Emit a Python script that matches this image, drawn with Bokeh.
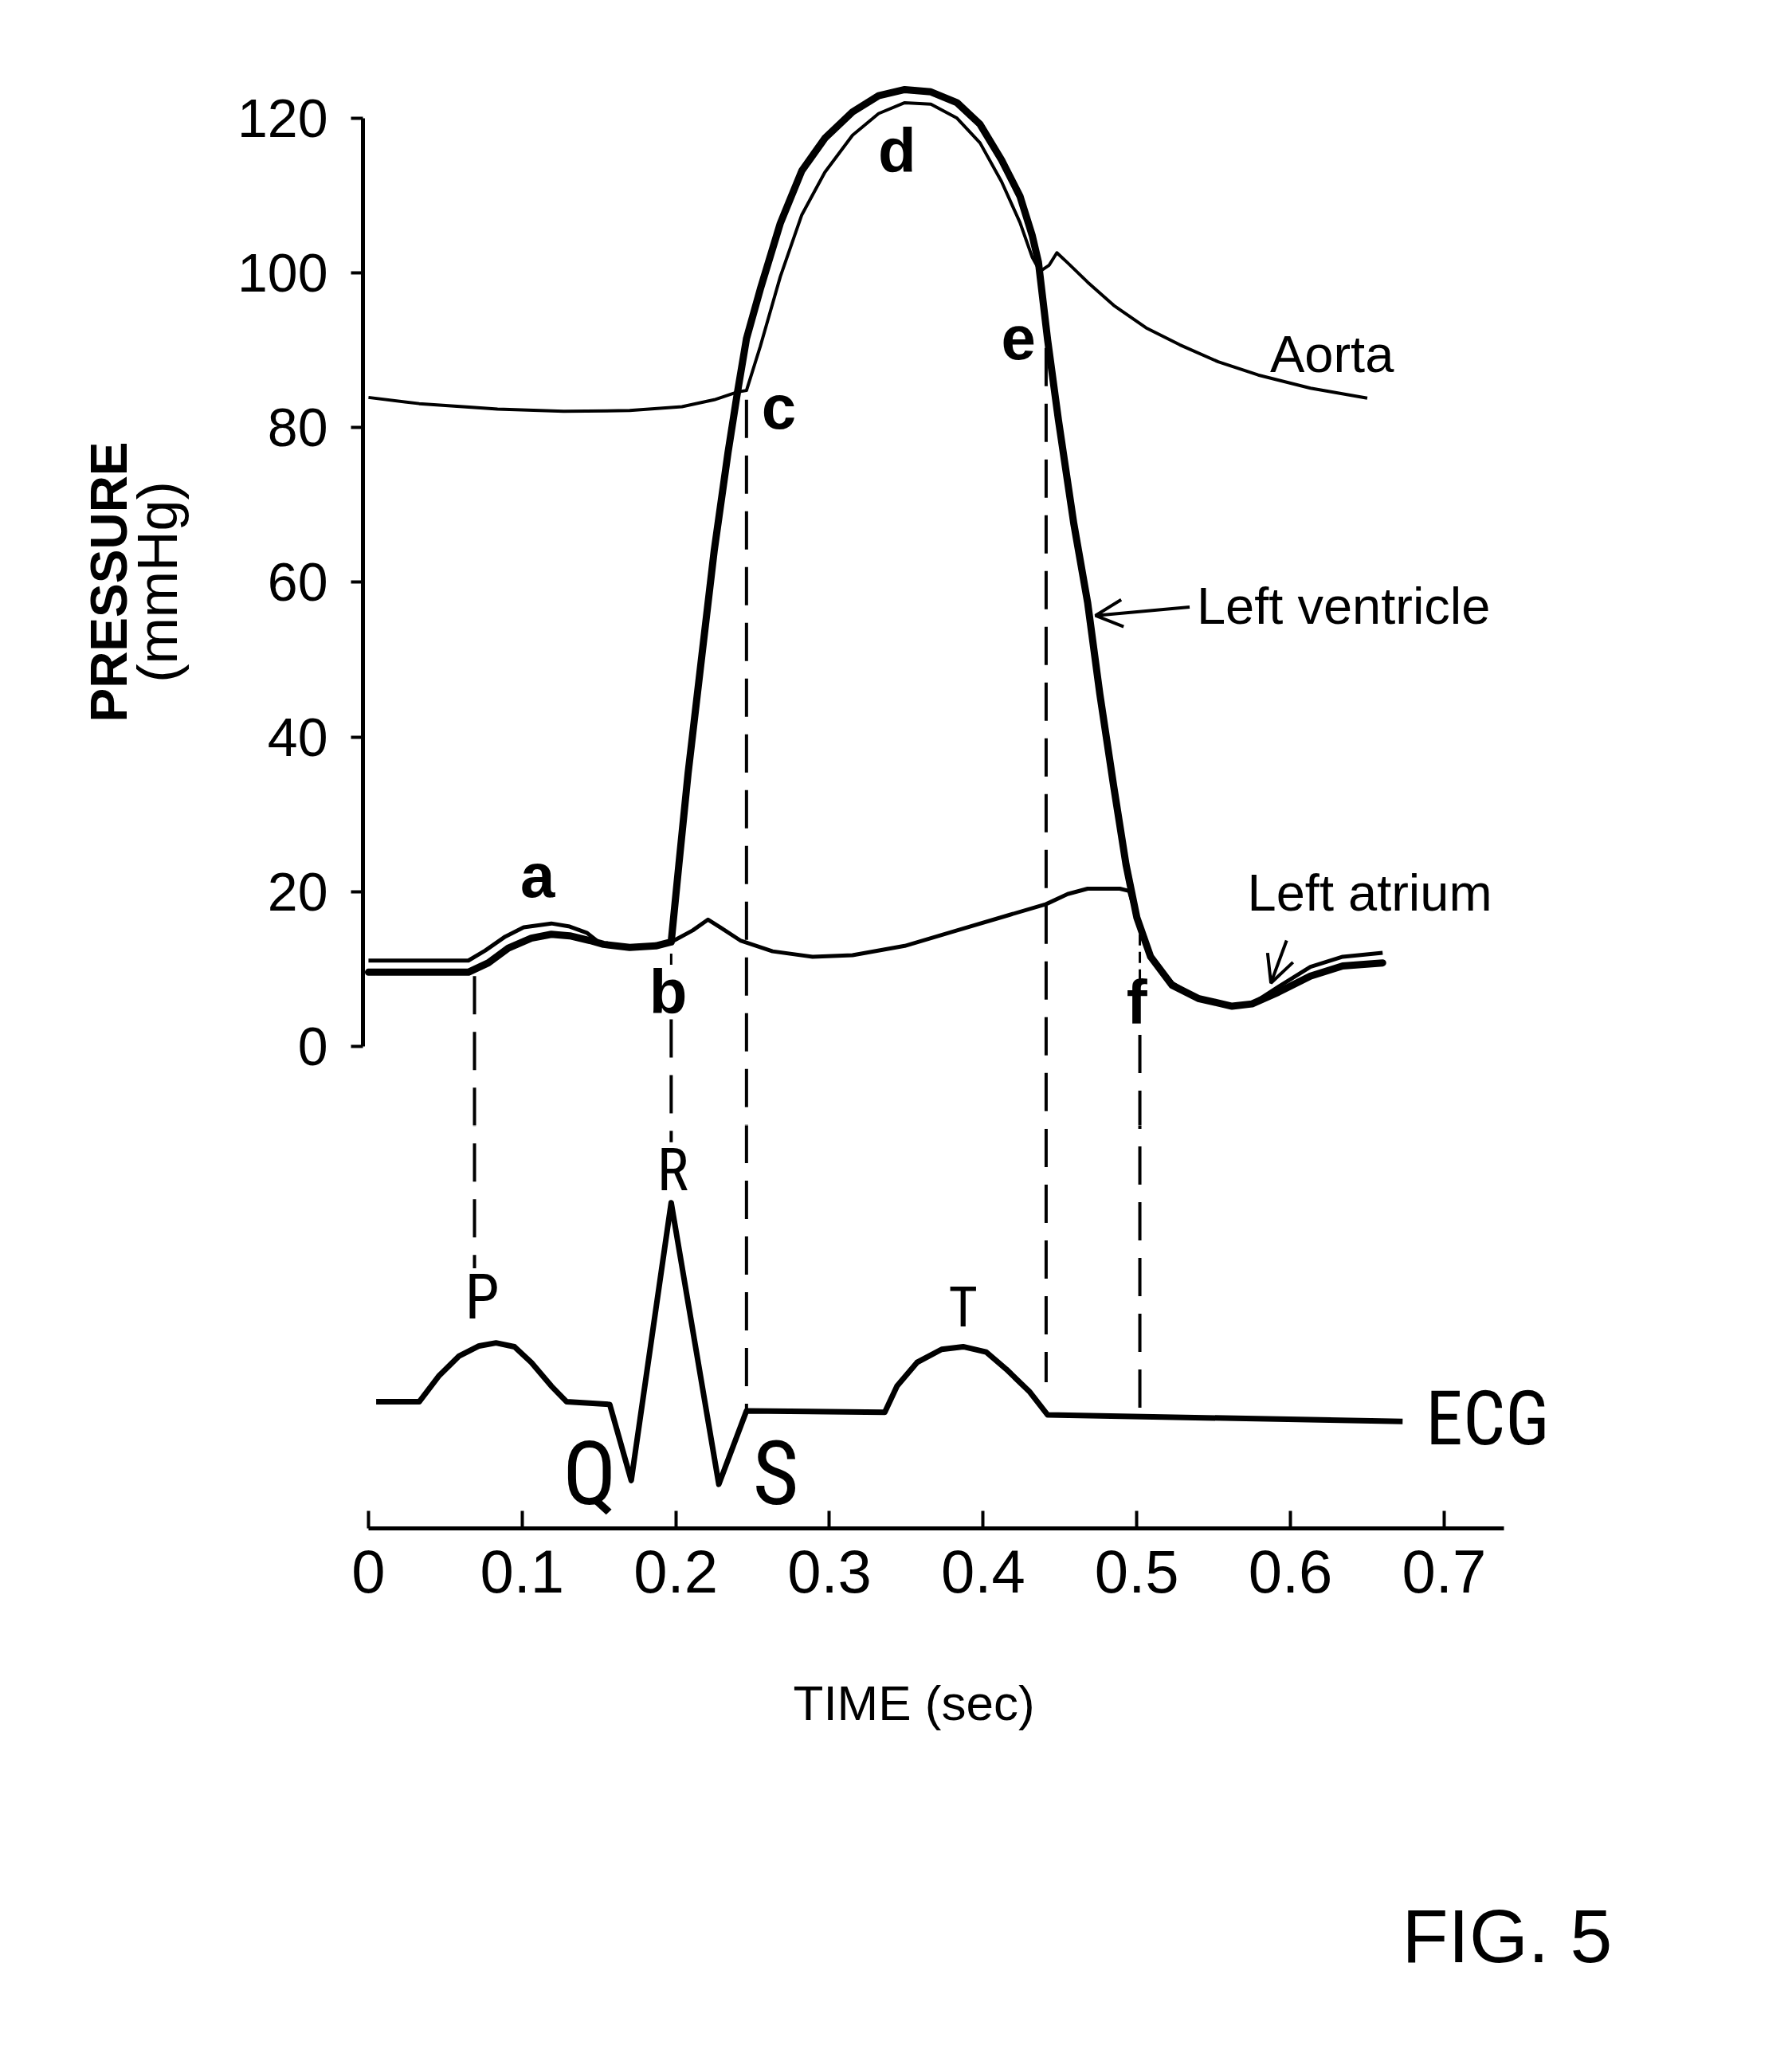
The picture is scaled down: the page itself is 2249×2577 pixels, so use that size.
from bokeh.plotting import figure
from bokeh.layouts import column
from bokeh.models import Range1d, FixedTicker, Label, Arrow, OpenHead, LinearAxis
from bokeh.embed import file_html
from bokeh.resources import INLINE

# ---------------- data (time in s, pressure in mmHg, ECG in mV) ----------------
lv_t = [0.000, 0.065, 0.078, 0.091, 0.106, 0.119, 0.131, 0.144, 0.153, 0.170,
        0.187, 0.197, 0.202, 0.208, 0.217, 0.225, 0.234, 0.240, 0.246, 0.255,
        0.268, 0.282, 0.297, 0.315, 0.332, 0.349, 0.366, 0.383, 0.398, 0.412,
        0.424, 0.432, 0.436, 0.442, 0.449, 0.459, 0.468, 0.476, 0.485, 0.493,
        0.500, 0.509, 0.523, 0.540, 0.562, 0.575, 0.592, 0.613, 0.634, 0.660]
lv_p = [9.6, 9.6, 10.8, 12.7, 14.0, 14.5, 14.3, 13.7, 13.2, 12.8,
        13.0, 13.5, 23.5, 35.3, 50.6, 64.1, 76.8, 84.4, 91.5, 97.9,
        106.4, 113.2, 117.4, 120.8, 122.9, 123.7, 123.4, 122.0, 119.2, 114.6,
        109.9, 104.8, 101.4, 91.3, 81.0, 67.6, 57.4, 45.5, 33.6, 23.5,
        16.7, 11.6, 7.9, 6.2, 5.2, 5.5, 7.0, 9.1, 10.4, 10.8]

la_t = [0.000, 0.065, 0.076, 0.089, 0.101, 0.119, 0.131, 0.142, 0.151, 0.165,
        0.182, 0.197, 0.211, 0.221, 0.229, 0.242, 0.263, 0.289, 0.315, 0.349,
        0.383, 0.417, 0.441, 0.455, 0.468, 0.489, 0.495, 0.500, 0.509, 0.523,
        0.540, 0.562, 0.575, 0.592, 0.613, 0.634, 0.660]
la_p = [11.1, 11.1, 12.4, 14.2, 15.4, 15.9, 15.5, 14.7, 13.3, 12.8,
        13.0, 13.5, 15.0, 16.4, 15.4, 13.7, 12.3, 11.6, 11.8, 13.0,
        15.0, 17.0, 18.4, 19.7, 20.4, 20.4, 20.1, 16.7, 11.6, 8.2,
        6.2, 5.2, 5.5, 7.7, 10.3, 11.6, 12.1]

ao_t = [0.000, 0.033, 0.084, 0.127, 0.170, 0.204, 0.225, 0.240, 0.246, 0.255,
        0.268, 0.282, 0.297, 0.315, 0.332, 0.349, 0.366, 0.383, 0.398, 0.412,
        0.424, 0.432, 0.437, 0.443, 0.448, 0.455, 0.468, 0.485, 0.506, 0.528,
        0.553, 0.579, 0.613, 0.650]
ao_p = [83.9, 83.1, 82.4, 82.1, 82.2, 82.7, 83.6, 84.6, 84.8, 90.5,
        99.5, 107.5, 113.0, 117.8, 120.6, 122.0, 121.8, 120.0, 116.8, 111.8,
        106.5, 102.0, 100.2, 101.0, 102.6, 101.3, 98.8, 95.8, 92.9, 90.7,
        88.5, 86.8, 85.1, 83.8]

ecg_t = [0.005, 0.033, 0.046, 0.059, 0.072, 0.083, 0.095, 0.106, 0.119, 0.129,
         0.157, 0.171, 0.197, 0.228, 0.246, 0.336, 0.344, 0.357, 0.373, 0.387,
         0.402, 0.415, 0.430, 0.442, 0.673]
ecg_mv = [0.013, 0.013, 0.143, 0.240, 0.290, 0.305, 0.286, 0.208, 0.091, 0.013,
          0.000, -0.377, 1.000, -0.396, -0.032, -0.039, 0.091, 0.208, 0.273, 0.286,
          0.260, 0.175, 0.065, -0.052, -0.084]

# event lines: time, top (mmHg), bottom (ECG mV)
event_t = [0.069, 0.197, 0.246, 0.441, 0.502]
event_top_p = [9.1, 3.5, 83.6, 90.3, 1.5]
event_bottom_mv = [0.675, 1.30, -0.03, 0.11, -0.04]
# short dashed pieces between the curve and the letters b and f
stub_t = [0.197, 0.502]
stub_top_p = [12.0, 14.5]
stub_bottom_p = [10.0, 8.5]

x_ticks = [0, 0.1, 0.2, 0.3, 0.4, 0.5, 0.6, 0.7]
x_tick_labels = ["0", "0.1", "0.2", "0.3", "0.4", "0.5", "0.6", "0.7"]
y_ticks = [0, 20, 40, 60, 80, 100, 120]

# ---------------- layout constants ----------------
PX = 9.71                    # pixels per mmHg (vertical)
X_START, X_END = -0.0036, 0.9054
Y_TOP, Y_SPLIT, Y_AXIS, Y_END = 130.28, -10.19, -62.31, -128.5
ECG_ZERO_P = -46.28          # where 0 mV sits on the pressure scale
ECG_P_PER_MV = 26.08         # mmHg-equivalent height of 1 mV
LEFT, RIGHT, TOP = 455, 25, 48
W = 2233
XAXIS_BORDER = 140


def ecg_to_p(mv):
    return ECG_ZERO_P + mv * ECG_P_PER_MV


def p_to_ecg(pv):
    return (pv - ECG_ZERO_P) / ECG_P_PER_MV


FONT = "Liberation Sans"
NARROW = "Roboto Condensed, DejaVu Sans Condensed, Liberation Sans Narrow, Liberation Sans"

x_range = Range1d(X_START, X_END)


def base_fig(h, y_range, top=0, bottom=0, xaxis=False, yaxis=False):
    f = figure(width=W, height=h, x_range=x_range, y_range=y_range,
               output_backend="svg", toolbar_location=None,
               min_border_left=LEFT, min_border_right=RIGHT,
               min_border_top=top, min_border_bottom=bottom,
               x_axis_location="below" if xaxis else None,
               y_axis_location="left" if yaxis else None)
    f.outline_line_color = None
    f.grid.visible = False
    f.background_fill_color = "white"
    f.border_fill_color = "white"
    return f


def lab(f, x, y, text, size, font=FONT, style="normal", align="center"):
    f.add_layout(Label(x=x, y=y, text=text, text_font=font,
                       text_font_size=size, text_font_style=style,
                       text_align=align, text_baseline="middle",
                       text_color="black"))


# ================= pressure panel =================
top_h = TOP + round((Y_TOP - Y_SPLIT) * PX)
p1 = base_fig(top_h, Range1d(Y_SPLIT, Y_TOP), top=TOP, yaxis=True)

ya = p1.yaxis[0]
ya.ticker = FixedTicker(ticks=y_ticks)
ya.bounds = (0, 120)
ya.axis_line_width = 5
ya.axis_line_color = "black"
ya.major_tick_line_width = 4
ya.major_tick_out = 15
ya.major_tick_in = 0
ya.minor_tick_line_color = None
ya.minor_tick_out = 0
ya.minor_tick_in = 0
ya.major_label_text_font = FONT
ya.major_label_text_font_size = "68px"
ya.major_label_text_color = "black"
ya.major_label_standoff = 29
ya.axis_label = "(mmHg)"
ya.axis_label_text_font = FONT
ya.axis_label_text_font_size = "70px"
ya.axis_label_text_font_style = "normal"
ya.axis_label_text_color = "black"
ya.axis_label_standoff = 58

p1.add_layout(LinearAxis(ticker=FixedTicker(ticks=[]), bounds=(0, 120),
                         axis_line_color=None, major_tick_line_color=None,
                         minor_tick_line_color=None, major_tick_out=0,
                         major_tick_in=0, minor_tick_out=0, minor_tick_in=0,
                         major_label_standoff=0,
                         major_label_text_font_size="0px",
                         axis_label="PRESSURE", axis_label_text_font=FONT,
                         axis_label_text_font_size="64px",
                         axis_label_text_font_style="bold",
                         axis_label_text_color="black",
                         axis_label_standoff=-16), "left")

p1.segment(x0=event_t, y0=event_top_p, x1=event_t,
           y1=[ecg_to_p(v) for v in event_bottom_mv],
           line_color="black", line_width=4, line_dash="48 22")
p1.segment(x0=stub_t, y0=stub_top_p, x1=stub_t, y1=stub_bottom_p,
           line_color="black", line_width=3, line_dash="14 8")

p1.line(ao_t, ao_p, line_color="black", line_width=4, line_join="round")
p1.line(la_t, la_p, line_color="black", line_width=5, line_join="round")
p1.line(lv_t, lv_p, line_color="black", line_width=9, line_join="round",
        line_cap="round")

lab(p1, 0.110, 22.1, "a", "78px", style="bold")
lab(p1, 0.195, 7.1, "b", "78px", style="bold")
lab(p1, 0.267, 82.7, "c", "78px", style="bold")
lab(p1, 0.344, 115.8, "d", "78px", style="bold")
lab(p1, 0.423, 91.6, "e", "78px", style="bold")
lab(p1, 0.500, 5.7, "f", "78px", style="bold")

lab(p1, 0.627, 89.5, "Aorta", "65px")
lab(p1, 0.539, 57.0, "Left ventricle", "65px", align="left")
lab(p1, 0.572, 19.9, "Left atrium", "65px", align="left")

p1.add_layout(Arrow(end=OpenHead(size=34, line_width=4, line_color="black"),
                    x_start=0.5344, y_start=56.8, x_end=0.4731, y_end=55.7,
                    line_width=4, line_color="black"))
p1.add_layout(Arrow(end=OpenHead(size=34, line_width=4, line_color="black"),
                    x_start=0.5975, y_start=13.7, x_end=0.5873, y_end=8.2,
                    line_width=4, line_color="black"))

# ================= ECG panel =================
ecg_frame_h = round((Y_SPLIT - Y_AXIS) * PX)
p2 = base_fig(ecg_frame_h + XAXIS_BORDER,
              Range1d(p_to_ecg(Y_AXIS), p_to_ecg(Y_SPLIT)),
              bottom=XAXIS_BORDER, xaxis=True)

xa = p2.xaxis[0]
xa.ticker = FixedTicker(ticks=x_ticks)
xa.major_label_overrides = dict(zip(x_ticks, x_tick_labels))
xa.bounds = (0, 0.739)
xa.axis_line_width = 5
xa.axis_line_color = "black"
xa.major_tick_line_width = 4
xa.major_tick_in = 22
xa.major_tick_out = 0
xa.minor_tick_line_color = None
xa.minor_tick_out = 0
xa.minor_tick_in = 0
xa.major_label_text_font = FONT
xa.major_label_text_font_size = "76px"
xa.major_label_text_color = "black"
xa.major_label_standoff = 27

p2.segment(x0=event_t, y0=[p_to_ecg(v) for v in event_top_p], x1=event_t,
           y1=event_bottom_mv, line_color="black", line_width=4,
           line_dash="48 22")
p2.line(ecg_t, ecg_mv, line_color="black", line_width=7, line_join="round")

lab(p2, 0.074, 0.532, "P", "78px", font=NARROW)
lab(p2, 0.198, 1.162, "R", "74px", font=NARROW)
lab(p2, 0.387, 0.480, "T", "70px", font=NARROW)
lab(p2, 0.144, -0.344, "Q", "112px", font=NARROW)
lab(p2, 0.265, -0.344, "S", "112px", font=NARROW)
lab(p2, 0.688, -0.071, "ECG", "94px", font=NARROW, align="left")

# ================= caption panel =================
y_caption_top = Y_AXIS - XAXIS_BORDER / PX
cap_h = 2561 - top_h - (ecg_frame_h + XAXIS_BORDER)
p3 = base_fig(cap_h, Range1d(y_caption_top - cap_h / PX, y_caption_top))
lab(p3, 0.355, -84.9, "TIME (sec)", "62px")
lab(p3, 0.741, -115.0, "FIG. 5", "95px")

layout = column(p1, p2, p3, spacing=0)
open("out.html", "w").write(file_html(layout, INLINE))
